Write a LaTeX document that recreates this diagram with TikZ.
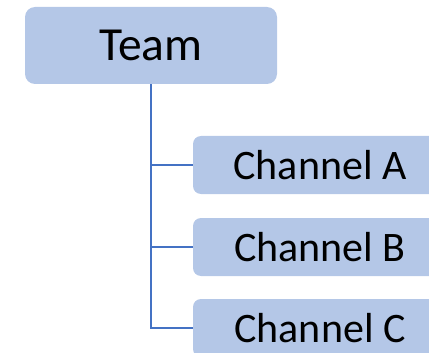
\documentclass[tikz,border=0pt]{standalone}
\usepackage{fontspec}
\setmainfont{Carlito}
\begin{document}
\begin{tikzpicture}[x=1pt,y=-1pt,
  box/.style={fill=boxfill,draw=none,rounded corners=#1,inner sep=0pt,anchor=center},
  link/.style={draw=linkblue,line width=1.3pt}]
\definecolor{boxfill}{HTML}{B4C7E7}
\definecolor{linkblue}{HTML}{4472C4}
\useasboundingbox (0,0) rectangle (429,353);
\clip (0,0) rectangle (429,353);
% root box
\node[box=10pt,minimum width=252pt,minimum height=77pt,font=\fontsize{47.5}{52}\selectfont] (team) at (151,45.5) {Team};
% child boxes
\node[box=8pt,minimum width=254pt,minimum height=58pt,font=\fontsize{42}{46}\selectfont] (a) at (320,165) {Channel A};
\node[box=8pt,minimum width=254pt,minimum height=58pt,font=\fontsize{42}{46}\selectfont] (b) at (320,247) {Channel B};
\node[box=8pt,minimum width=254pt,minimum height=58pt,font=\fontsize{42}{46}\selectfont] (c) at (320,328) {Channel C};
% connectors
\draw[link] (team.south) |- (c.west);
\draw[link] (team.south |- a.west) -- (a.west);
\draw[link] (team.south |- b.west) -- (b.west);
\end{tikzpicture}
\end{document}
